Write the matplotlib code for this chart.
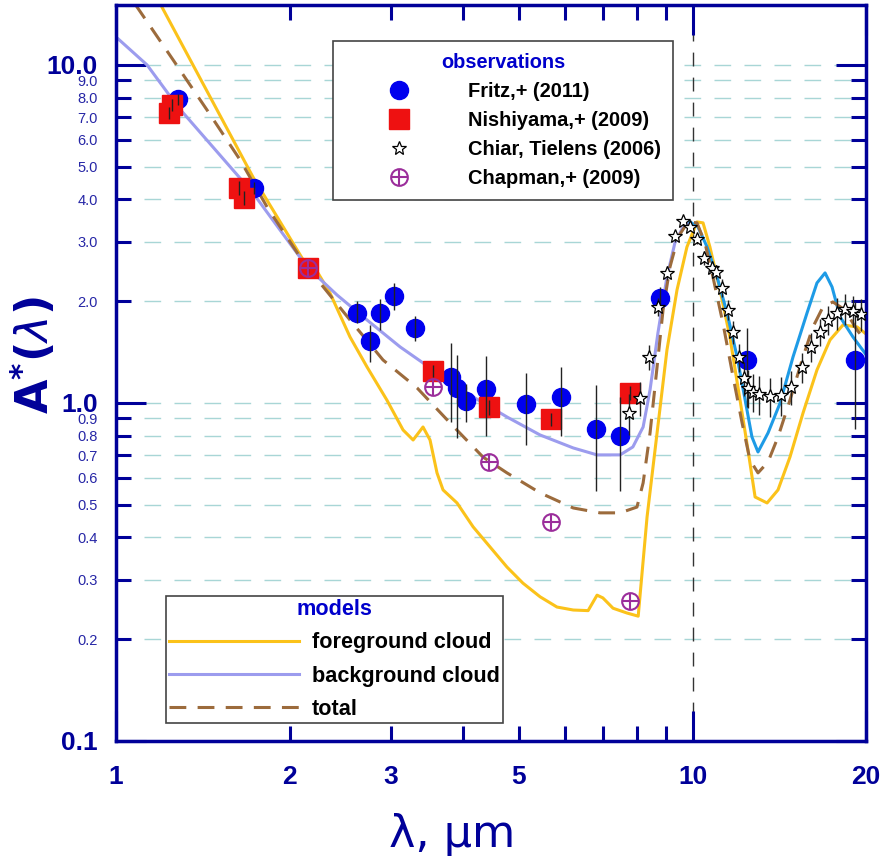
import matplotlib
matplotlib.use('Agg')
import matplotlib.pyplot as plt
from matplotlib.lines import Line2D
from matplotlib.ticker import FixedLocator, FixedFormatter

plt.rcParams['font.family'] = ['Liberation Sans', 'DejaVu Sans']
plt.rcParams['mathtext.fontset'] = 'dejavusans'

# --- observations -------------------------------------------------------
fritz_x = [1.28, 1.735, 2.62, 2.76, 2.87, 3.035, 3.30, 3.81, 3.905, 4.05,
           4.385, 5.14, 5.91, 6.80, 7.49, 8.78, 12.43, 19.14]
fritz_y = [7.93, 4.33, 1.85, 1.52, 1.85, 2.07, 1.67, 1.19, 1.11, 1.01,
           1.10, 0.99, 1.04, 0.84, 0.80, 2.05, 1.34, 1.34]
fritz_lo = [7.6, 4.15, 1.72, 1.32, 1.64, 1.88, 1.52, 0.88, 0.79, 0.88,
            0.80, 0.75, 0.80, 0.55, 0.55, 1.90, 0.97, 0.84]
fritz_hi = [8.2, 4.5, 2.0, 1.70, 2.03, 2.26, 1.81, 1.50, 1.39, 1.14,
            1.38, 1.23, 1.28, 1.13, 1.04, 2.20, 1.67, 1.99]

nish_x = [1.236, 1.251, 1.635, 1.667, 2.153, 3.548, 4.436, 5.68, 7.79]
nish_y = [7.21, 7.62, 4.33, 4.04, 2.51, 1.244, 0.973, 0.897, 1.07]
nish_err = [0.3, 0.3, 0.2, 0.2, 0.08, 0.05, 0.05, 0.04, 0.05]

chiar_x = [7.76, 8.11, 8.40, 8.71, 9.03, 9.32, 9.63, 9.90, 10.18, 10.47,
           10.81, 10.98, 11.25, 11.52, 11.76, 12.04, 12.28, 12.48, 12.73, 13.04,
           13.63, 14.24, 14.82, 15.49, 16.06, 16.64, 17.18, 17.81, 18.39, 18.98,
           19.60]
chiar_y = [0.934, 1.035, 1.368, 1.923, 2.425, 3.12, 3.456, 3.317, 3.056, 2.686,
           2.508, 2.441, 2.19, 1.884, 1.622, 1.368, 1.186, 1.108, 1.078, 1.063,
           1.049, 1.056, 1.115, 1.278, 1.465, 1.622, 1.76, 1.846, 1.897, 1.872,
           1.834]
chiar_err = [0.13, 0.12, 0.12, 0.12, 0.12, 0.12, 0.10, 0.10, 0.10, 0.12,
             0.12, 0.12, 0.13, 0.13, 0.13, 0.13, 0.14, 0.14, 0.14, 0.14,
             0.14, 0.14, 0.13, 0.13, 0.14, 0.15, 0.17, 0.20, 0.20, 0.20,
             0.20]

chap_x = [2.153, 3.548, 4.436, 5.68, 7.79]
chap_y = [2.51, 1.115, 0.669, 0.445, 0.26]

# --- models -------------------------------------------------------------
fg_x = [1.18, 1.45, 1.728, 2.153, 2.24, 2.35, 2.546, 2.725, 2.95, 3.147,
        3.276, 3.408, 3.505, 3.604, 3.692, 3.904, 4.163, 4.454, 4.766, 5.08,
        5.44, 5.82, 6.21, 6.59, 6.83, 6.99, 7.28, 7.70, 8.05, 8.34,
        8.68, 9.03, 9.40, 9.78, 10.18, 10.43, 10.72, 11.16, 11.61, 12.09,
        12.48, 12.84, 13.47, 14.07, 14.76, 15.55, 16.44, 17.32, 18.24, 19.29,
        20.0]
fg_y = [15.7, 8.15, 4.66, 2.51, 2.425, 2.116, 1.568, 1.278, 1.02, 0.832,
        0.777, 0.849, 0.777, 0.621, 0.553, 0.506, 0.43, 0.375, 0.327, 0.293,
        0.267, 0.249, 0.244, 0.243, 0.27, 0.265, 0.247, 0.239, 0.234, 0.46,
        0.815, 1.435, 2.16, 2.894, 3.432, 3.41, 2.894, 2.16, 1.568, 1.02,
        0.726, 0.527, 0.506, 0.553, 0.692, 0.934, 1.252, 1.536, 1.701, 1.679,
        1.60]

bg_x = [1.0, 1.132, 1.281, 1.728, 2.145, 2.417, 2.725, 3.11, 3.548, 4.163,
        4.766, 5.44, 6.21, 6.83, 7.49, 7.88, 8.21, 8.44, 8.71, 9.03,
        9.32, 9.63, 9.90]
bg_y = [12.1, 10.0, 7.51, 4.18, 2.526, 2.087, 1.76, 1.465, 1.252, 1.042,
        0.909, 0.804, 0.736, 0.702, 0.702, 0.741, 0.849, 1.093, 1.611, 2.36,
        2.974, 3.317, 3.432]

sil_x = [9.90, 10.22, 10.60, 11.03, 11.48, 11.95, 12.34, 12.68, 12.99, 13.52,
         14.19, 14.94, 15.80, 16.44, 16.98, 17.46, 18.03, 18.98, 20.0]
sil_y = [3.432, 3.317, 2.894, 2.36, 1.846, 1.368, 1.02, 0.793, 0.716, 0.815,
         1.0, 1.368, 1.846, 2.265, 2.425, 2.204, 1.797, 1.568, 1.39]

tot_x = [1.08, 1.256, 1.438, 1.641, 1.828, 2.085, 2.259, 2.546, 2.905, 3.328,
         3.796, 4.33, 4.766, 5.44, 6.21, 6.91, 7.49, 8.01, 8.21, 8.44,
         8.68, 8.89, 9.14, 9.44, 9.82, 10.18, 10.51, 10.85, 11.29, 11.76,
         12.19, 12.58, 12.99, 13.52, 14.07, 14.76, 15.55, 16.18, 16.84, 17.52,
         18.39, 19.29, 20.0]
tot_y = [15.1, 10.35, 7.36, 5.24, 3.80, 2.704, 2.265, 1.76, 1.34, 1.108,
         0.873, 0.692, 0.621, 0.542, 0.489, 0.473, 0.473, 0.492, 0.58, 0.815,
         1.278, 1.884, 2.526, 3.098, 3.432, 3.41, 2.974, 2.36, 1.725, 1.194,
         0.873, 0.678, 0.621, 0.669, 0.793, 1.02, 1.368, 1.679, 1.923, 1.99,
         1.884, 1.644, 1.52]

# --- axis ticks -----------------------------------------------------------
y_major = [0.1, 1.0, 10.0]
y_major_labels = ['0.1', '1.0', '10.0']
y_minor = [0.2, 0.3, 0.4, 0.5, 0.6, 0.7, 0.8, 0.9,
           2, 3, 4, 5, 6, 7, 8, 9]
y_minor_labels = ['0.2', '0.3', '0.4', '0.5', '0.6', '0.7', '0.8', '0.9',
                  '2.0', '3.0', '4.0', '5.0', '6.0', '7.0', '8.0', '9.0']
x_major = [1, 10, 20]
x_major_labels = ['1', '10', '20']
x_minor = [2, 3, 4, 5, 6, 7, 8, 9]
x_minor_labels = ['2', '3', '', '5', '', '', '', '']

navy = '#000099'
c_fritz = '#0000ee'
c_nish = '#ee1111'
c_chap = '#9b2d9b'
c_fg = '#fbc21a'
c_bg = '#9c9cee'
c_sil = '#1e9be6'
c_tot = '#9c6b3c'

fig = plt.figure(figsize=(8.83, 8.65), dpi=100)
ax = fig.add_axes([0.1314, 0.1434, 0.8494, 0.8509])
ax.set_xscale('log')
ax.set_yscale('log')
ax.set_xlim(1, 20)
ax.set_ylim(0.1, 15.05)

# dashed guide lines
ax.hlines(y_minor + [1.0, 10.0], 1.12, 20, colors='#a8d6d6', lw=1.0,
          linestyles=(0, (12, 9.6)), zorder=0.5)
ax.axvline(10, color='#333333', lw=1.0, dashes=(10, 8), zorder=1)

# model curves
ax.plot(fg_x, fg_y, color=c_fg, lw=2.2, zorder=2)
ax.plot(bg_x, bg_y, color=c_bg, lw=2.2, zorder=2)
ax.plot(sil_x, sil_y, color=c_sil, lw=2.2, zorder=2)
ax.plot(tot_x, tot_y, color=c_tot, lw=2.2, dashes=(5.5, 3.7), zorder=2.1)

# data points
ax.plot(fritz_x, fritz_y, 'o', color=c_fritz, ms=13, zorder=3)
ax.plot(nish_x, nish_y, 's', color=c_nish, ms=14, zorder=3.1)
ax.plot(chiar_x, chiar_y, '*', mfc='white', mec='black', mew=0.9, ms=10.5, zorder=3.3)
ax.plot(chap_x, chap_y, 'o', mfc='none', mec=c_chap, mew=1.5, ms=12, zorder=3.4)
ax.plot(chap_x, chap_y, '+', color=c_chap, mew=1.5, ms=12, zorder=3.4)

fritz_err = [[y - lo for y, lo in zip(fritz_y, fritz_lo)],
             [hi - y for y, hi in zip(fritz_y, fritz_hi)]]
ax.errorbar(fritz_x, fritz_y, yerr=fritz_err, fmt='none', ecolor='#222222',
            elinewidth=1.0, capsize=0, zorder=3.2)
ax.errorbar(nish_x, nish_y, yerr=nish_err, fmt='none', ecolor='#222222',
            elinewidth=1.0, capsize=0, zorder=3.2)
ax.errorbar(chiar_x, chiar_y, yerr=chiar_err, fmt='none', ecolor='#222222',
            elinewidth=1.0, capsize=0, zorder=3.2)

# frame and ticks
for sp in ax.spines.values():
    sp.set_color(navy)
    sp.set_linewidth(2.5)

ax.xaxis.set_major_locator(FixedLocator(x_major))
ax.xaxis.set_major_formatter(FixedFormatter(x_major_labels))
ax.xaxis.set_minor_locator(FixedLocator(x_minor))
ax.xaxis.set_minor_formatter(FixedFormatter(x_minor_labels))
ax.yaxis.set_major_locator(FixedLocator(y_major))
ax.yaxis.set_major_formatter(FixedFormatter(y_major_labels))
ax.yaxis.set_minor_locator(FixedLocator(y_minor))
ax.yaxis.set_minor_formatter(FixedFormatter(y_minor_labels))

ax.tick_params(which='major', direction='in', length=21.6, width=2.2,
               color=navy, labelcolor=navy, top=True, right=True)
ax.tick_params(which='minor', direction='in', length=10.8, width=2.2,
               color=navy, labelcolor=navy, top=True, right=True)
ax.tick_params(axis='x', which='both', pad=17, labelsize=19)
ax.tick_params(axis='y', which='major', pad=13, labelsize=19)
ax.tick_params(axis='y', which='minor', pad=13, labelsize=10.5)
for lab in ax.get_xticklabels(which='both') + ax.get_yticklabels(which='major'):
    lab.set_fontweight('bold')
for lab in ax.get_yticklabels(which='minor'):
    lab.set_color('#2626a6')

fig.text(33 / 883, 1 - 355 / 865, r'$\mathbf{A}^{\mathbf{*}}\mathbf{(}\lambda\mathbf{)}$',
         rotation=90, ha='center', va='center', fontsize=32, color=navy)
fig.text(452 / 883, 1 - 834 / 865, 'λ, μm', ha='center', va='center',
         fontsize=32, color=navy, family='DejaVu Sans')

# legends
obs_handles = [
    Line2D([], [], ls='none', marker='o', color=c_fritz, ms=13),
    Line2D([], [], ls='none', marker='s', color=c_nish, ms=14),
    Line2D([], [], ls='none', marker='*', mfc='white', mec='black', mew=0.9, ms=10.5),
    (Line2D([], [], ls='none', marker='o', mfc='none', mec=c_chap, mew=1.5, ms=12),
     Line2D([], [], ls='none', marker='+', color=c_chap, mew=1.5, ms=12)),
]
obs_labels = ['Fritz,+ (2011)', 'Nishiyama,+ (2009)', 'Chiar, Tielens (2006)',
              'Chapman,+ (2009)']
leg1 = ax.legend(obs_handles, obs_labels, loc='upper left',
                 bbox_to_anchor=(333 / 883, 1 - 41 / 865),
                 bbox_transform=fig.transFigure, borderaxespad=0,
                 title='observations', numpoints=1, handlelength=5.4,
                 handletextpad=0.75, borderpad=0.6, labelspacing=0.5,
                 prop=dict(family='Liberation Sans', weight='bold', size=14.4),
                 title_fontproperties=dict(family='Liberation Sans', weight='bold', size=14.4),
                 fancybox=False, framealpha=1, edgecolor='#444444')
leg1.get_title().set_color('#0000cc')
leg1.get_frame().set_linewidth(1.2)
ax.add_artist(leg1)

mod_handles = [
    Line2D([], [], color=c_fg, lw=2.2),
    Line2D([], [], color=c_bg, lw=2.2),
    Line2D([], [], color=c_tot, lw=2.2, dashes=(5.5, 3.7)),
]
mod_labels = ['foreground cloud', 'background cloud', 'total']
leg2 = ax.legend(mod_handles, mod_labels, loc='upper left',
                 bbox_to_anchor=(166 / 883, 1 - 596 / 865),
                 bbox_transform=fig.transFigure, borderaxespad=0,
                 title='models', handlelength=6.0, handletextpad=0.6,
                 borderpad=0.15, labelspacing=0.56,
                 prop=dict(family='Liberation Sans', weight='bold', size=15.6),
                 title_fontproperties=dict(family='Liberation Sans', weight='bold', size=15.6),
                 fancybox=False, framealpha=1, edgecolor='#444444')
leg2.get_title().set_color('#0000cc')
leg2.get_frame().set_linewidth(1.2)

fig.savefig('out.png', dpi=100)
